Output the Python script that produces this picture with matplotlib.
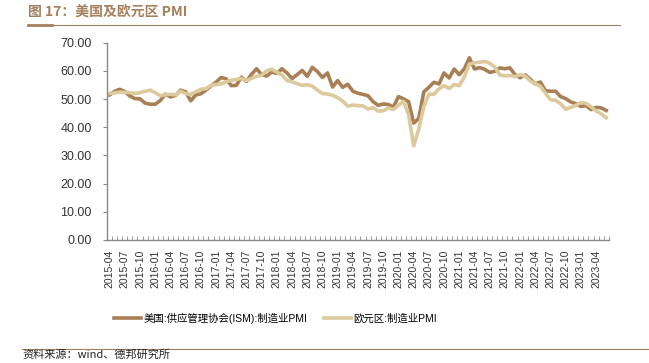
import matplotlib.pyplot as plt
import numpy as np

plt.rcParams['font.family'] = ['Liberation Sans', 'Noto Sans CJK SC', 'DejaVu Sans']
plt.rcParams['axes.unicode_minus'] = False

# 2015-04 ~ 2023-06 月度
months = [f"{y}-{m:02d}" for y in range(2015, 2024) for m in range(1, 13)]
months = months[months.index("2015-04"):months.index("2023-06") + 1]

us_pmi = [51.5, 52.8, 53.5, 52.7, 51.1, 50.2, 50.1, 48.6, 48.2,
          48.2, 49.5, 51.8, 50.8, 51.3, 53.2, 52.6, 49.4, 51.5, 51.9, 53.2, 54.7,
          56.0, 57.7, 57.2, 54.8, 54.9, 57.8, 56.3, 58.8, 60.8, 58.7, 58.2, 59.7,
          59.1, 60.8, 59.3, 57.3, 58.7, 60.2, 58.1, 61.3, 59.8, 57.7, 59.3, 54.3,
          56.6, 54.2, 55.3, 52.8, 52.1, 51.7, 51.2, 49.1, 47.8, 48.3, 48.1, 47.2,
          50.9, 50.1, 49.1, 41.5, 43.1, 52.6, 54.2, 56.0, 55.4, 59.3, 57.5, 60.7,
          58.7, 60.8, 64.7, 60.7, 61.2, 60.6, 59.5, 59.9, 61.1, 60.8, 61.1, 58.7,
          57.6, 58.6, 57.1, 55.4, 56.1, 53.0, 52.8, 52.8, 50.9, 50.2, 49.0, 48.4,
          47.4, 47.7, 46.3, 47.1, 46.9, 46.0]
ez_pmi = [52.0, 52.2, 52.5, 52.4, 52.3, 52.0, 52.3, 52.8, 53.2,
          52.3, 51.2, 51.6, 51.7, 51.5, 52.8, 52.0, 51.7, 52.6, 53.5, 53.7, 54.9,
          55.2, 55.4, 56.2, 56.7, 57.0, 57.4, 56.6, 57.4, 58.1, 58.5, 60.1, 60.6,
          59.6, 58.6, 56.6, 56.2, 55.5, 54.9, 55.1, 54.6, 53.2, 52.0, 51.8, 51.4,
          50.5, 49.3, 47.5, 47.9, 47.7, 47.6, 46.5, 47.0, 45.7, 45.9, 46.9, 46.3,
          47.9, 49.2, 44.5, 33.4, 39.4, 47.4, 51.8, 51.7, 53.7, 54.8, 53.8, 55.2,
          54.8, 57.9, 62.5, 62.9, 63.1, 63.4, 62.8, 61.4, 58.6, 58.3, 58.4, 58.0,
          58.7, 58.2, 56.5, 55.5, 54.6, 52.1, 49.8, 49.6, 48.4, 46.4, 47.1, 47.8,
          48.8, 48.5, 47.3, 45.8, 44.8, 43.4]

us_color = '#A97F55'
ez_color = '#DCC99C'
brown = '#A5805E'

fig = plt.figure(figsize=(6.49, 3.63), dpi=100)
ax = fig.add_axes([0.165, 0.339, 0.773, 0.543])

x = np.arange(len(months))
ax.plot(x, us_pmi, color=us_color, lw=2.6, label='美国:供应管理协会(ISM):制造业PMI')
ax.plot(x, ez_pmi, color=ez_color, lw=2.6, label='欧元区:制造业PMI')

ax.set_xlim(-0.5, len(months) - 0.5)
ax.set_ylim(0, 70)
ax.set_yticks(np.arange(0, 71, 10))
ax.set_yticklabels([f"{v:.2f}" for v in np.arange(0, 71, 10)], fontsize=9, color='#333333')

ax.set_xticks(x[::3])
ax.set_xticklabels(months[::3], rotation=90, fontsize=7.5, color='#333333')
ax.set_xticks(np.arange(-0.5, len(months)), minor=True)
ax.tick_params(axis='x', which='major', length=0, pad=7)
ax.tick_params(axis='x', which='minor', length=3, color='#888888', direction='in')
ax.tick_params(axis='y', length=3, color='#888888', direction='out', pad=8)

for s in ['top', 'right']:
    ax.spines[s].set_visible(False)
for s in ['left', 'bottom']:
    ax.spines[s].set_color('#888888')
    ax.spines[s].set_linewidth(1.0)

leg = fig.legend(loc='center', bbox_to_anchor=(0.424, 0.124), ncol=2, frameon=False,
                 fontsize=7.5, handlelength=2.6, columnspacing=1.6, handletextpad=0.2)

fig.text(0.043, 0.967, '图 17：美国及欧元区 PMI', fontsize=10, fontweight='bold',
         color=brown, va='center', family=['Noto Sans CJK SC', 'DejaVu Sans'])
fig.add_artist(plt.Line2D([0.043, 0.955], [0.93, 0.93], color=brown, lw=0.8))
fig.add_artist(plt.Line2D([0.043, 0.08], [0.93, 0.93], color=brown, lw=2))
fig.add_artist(plt.Line2D([0.034, 1.0], [0.039, 0.039], color=brown, lw=0.8))
fig.text(0.034, 0.022, '资料来源：wind、德邦研究所', fontsize=8, color='#222222', va='center',
         family=['Noto Sans CJK SC', 'DejaVu Sans'])

fig.savefig('out.png', dpi=100)
